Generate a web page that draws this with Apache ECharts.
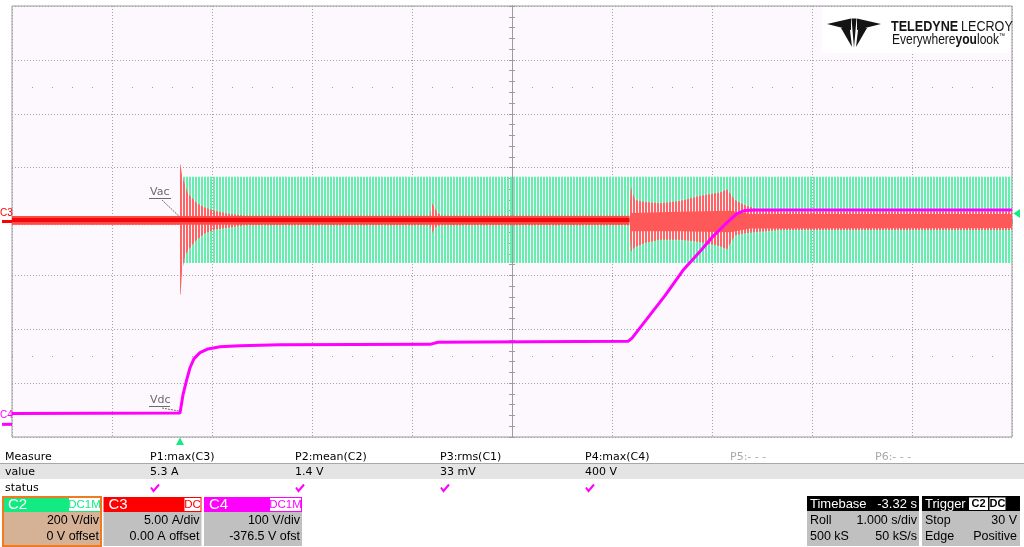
<!DOCTYPE html>
<html><head><meta charset="utf-8">
<script src="https://cdn.jsdelivr.net/npm/echarts@6/dist/echarts.min.js"></script>
<style>html,body{margin:0;padding:0;background:#fff}#c{width:1024px;height:547px}</style>
</head><body><div id="c"></div><script>
const timePerDiv = 1.0;        // s/div
const timebaseDelay = -3.32;   // s
const c2Scale = 200, c2Offset = 0;      // V/div, V
const c3Scale = 5,   c3Offset = 0;      // A/div, A
const c4Scale = 100, c4Offset = -376.5; // V/div, V
const triggerLevel = 30;                // V (C2)
const triggerTime = 0;                  // s

// ---------- C4 : Vdc (V vs s) ----------
const c4Time = [-1.68, 0.00, 0.03, 0.07, 0.10, 0.14, 0.20, 0.28, 0.40, 0.60, 1.00, 2.50, 2.58, 3.50, 4.48, 4.52, 4.65, 4.85, 5.03, 5.20, 5.33, 5.45, 5.57, 5.65, 5.75, 8.32];
const c4Volt = [20, 21, 55, 85, 105, 122, 133, 140, 144, 146, 147.5, 148.5, 152.5, 153.5, 154, 160, 191, 239, 286, 321, 349, 371, 391, 397, 398, 398];

// ---------- C2 : Vac envelope (V) ----------
const c2Time = [-1.68, 0.025, 0.03, 1.0, 3.0, 5.0, 8.32];
const c2Max  = [3, 3, 166, 166, 166, 166, 166];
const c2Min  = [-3, -3, -154, -154, -154, -154, -154];

// ---------- C3 : current envelope (A) ----------
const c3Time = [-1.68, -0.01, 0.00, 0.005, 0.02, 0.05, 0.08, 0.12, 0.17, 0.25, 0.35, 0.50, 0.65, 2.50, 2.52, 2.55, 2.58, 2.62, 4.49, 4.51, 4.55, 4.65, 4.80, 5.00, 5.20, 5.40, 5.47, 5.55, 5.65, 5.80, 6.00, 8.32];
const c3Max  = [0.5, 0.5, 5.3, 5.3, 4.3, 3.4, 2.6, 2.2, 1.7, 1.3, 1.0, 0.7, 0.55, 0.55, 1.7, 1.2, 0.8, 0.55, 0.55, 3.2, 2.0, 1.8, 1.7, 1.9, 2.4, 2.7, 3.0, 2.0, 1.5, 1.1, 0.9, 0.9];
const c3Min  = [-0.3, -0.3, -6.8, -6.8, -4.7, -3.2, -2.7, -2.2, -1.7, -1.1, -0.75, -0.55, -0.35, -0.35, -1.1, -0.6, -0.4, -0.35, -0.35, -2.8, -2.4, -2.0, -1.7, -1.7, -1.9, -2.3, -2.6, -1.3, -1.1, -0.95, -0.8, -0.8];
// dense (solid) part of the C3 trace before the converter starts
const c3DenseTime = [-1.68, 4.495];
const c3DenseHi   = [0.5, 0.5];
const c3DenseLo   = [-0.3, -0.3];
const c3CoreHi    = [0.33, 0.33];
const c3CoreLo    = [-0.05, -0.05];
// dense part of the C3 trace after the converter starts
const c3RunTime = [4.50, 5.00, 5.50, 5.70, 8.32];
const c3RunHi   = [0.8, 0.9, 1.0, 0.7, 0.7];
const c3RunLo   = [-0.9, -0.9, -1.0, -0.65, -0.6];

// ---------- measurement table ----------
const measureNames  = ['P1:max(C3)', 'P2:mean(C2)', 'P3:rms(C1)', 'P4:max(C4)', 'P5:- - -', 'P6:- - -'];
const measureValues = ['5.3 A', '1.4 V', '33 mV', '400 V', '', ''];
const measureOk     = [true, true, true, true, false, false];

// ---------- channel / timebase panels ----------
const chanNames   = ['C2', 'C3', 'C4'];
const chanCoupling = ['DC1M', 'DC', 'DC1M'];
const chanLine1   = ['200 V/div', '5.00 A/div', '100 V/div'];
const chanLine2   = ['0 V offset', '0.00 A offset', '-376.5 V ofst'];
const chanColors  = ['#14ea82', '#ff0000', '#ff00ff'];
const timebaseText = ['Timebase', '-3.32 s', 'Roll', '1.000 s/div', '500 kS', '50 kS/s'];
const triggerText  = ['Trigger', 'C2', 'DC', 'Stop', '30 V', 'Edge', 'Positive'];

// ---------- helpers ----------
const xDiv = t => (t + timebaseDelay) / timePerDiv;
const yDiv = (v, scale, offset) => (v + offset) / scale;

function stripes(color, on, period) {
  const c = document.createElement('canvas');
  c.width = period; c.height = 4;
  const g = c.getContext('2d');
  g.fillStyle = color; g.fillRect(0, 0, on, 4);
  return { image: c, repeat: 'repeat' };
}

function band(time, hi, lo, scale, offset, fill, z) {
  return {
    type: 'custom', coordinateSystem: 'cartesian2d', data: [[0, 0]], silent: true, clip: true, z: z,
    renderItem: function (params, api) {
      const pts = [];
      for (let i = 0; i < time.length; i++) pts.push(api.coord([xDiv(time[i]), yDiv(hi[i], scale, offset)]));
      for (let i = time.length - 1; i >= 0; i--) pts.push(api.coord([xDiv(time[i]), yDiv(lo[i], scale, offset)]));
      return { type: 'polygon', shape: { points: pts }, style: { fill: fill, stroke: null } };
    }
  };
}

const GRIDC = '#9c9c9c';
function xAx(pos, main) {
  return {
    type: 'value', min: -5, max: 5, interval: 1, position: pos,
    axisLine: { show: true, onZero: true, onZeroAxisIndex: 0, lineStyle: { color: GRIDC, width: 1 } },
    axisTick: { show: true, length: 3, lineStyle: { color: GRIDC } },
    minorTick: { show: true, splitNumber: 5, length: 3, lineStyle: { color: GRIDC } },
    axisLabel: { show: false },
    splitLine: { show: main, lineStyle: { color: '#a4a4a4', type: [1, 2] } },
    minorSplitLine: { show: false }
  };
}
function yAx(pos, main) {
  return {
    type: 'value', min: -4, max: 4, interval: 1, position: pos,
    axisLine: { show: true, onZero: true, onZeroAxisIndex: 0, lineStyle: { color: GRIDC, width: 1 } },
    axisTick: { show: true, length: 3, lineStyle: { color: GRIDC } },
    minorTick: { show: true, splitNumber: 5, length: 3, lineStyle: { color: GRIDC } },
    axisLabel: { show: false },
    splitLine: { show: main, lineStyle: { color: '#a4a4a4', type: [1, 2] } },
    minorSplitLine: { show: false }
  };
}

const chart = echarts.init(document.getElementById('c'), null, { renderer: 'canvas' });

const option = {
  animation: false,
  backgroundColor: '#ffffff',
  grid: { left: 12, top: 6, width: 1000, height: 431, show: true, backgroundColor: '#fdf8fd', borderColor: '#9a9a9a', borderWidth: 1, containLabel: false, outerBoundsMode: 'none' },
  xAxis: [xAx('bottom', true), xAx('top', false)],
  yAxis: [yAx('left', true), yAx('right', false)],
  series: [
    // half-division dot rows of the graticule
    { type: 'line', data: [], silent: true,
      markLine: { silent: true, symbol: ['none', 'none'], label: { show: false },
        lineStyle: { color: '#a0a0a0', type: [1, 19], width: 1 },
        data: [{ yAxis: 2.5 }, { yAxis: -2.5 }] } },
    band(c2Time, c2Max, c2Min, c2Scale, c2Offset, stripes('#66eeae', 2, 3), 2),
    band(c3Time, c3Max, c3Min, c3Scale, c3Offset, stripes('#ff6464', 2, 3), 3),
    band(c3RunTime, c3RunHi, c3RunLo, c3Scale, c3Offset, '#ff5858', 4),
    band(c3DenseTime, c3DenseHi, c3DenseLo, c3Scale, c3Offset, '#ff4a4a', 4),
    band(c3DenseTime, c3CoreHi, c3CoreLo, c3Scale, c3Offset, '#f20a0a', 4),
    { type: 'line', name: 'C4', z: 6, showSymbol: false, silent: true, clip: true,
      lineStyle: { color: '#ff00ff', width: 3 },
      data: c4Time.map((t, i) => [xDiv(t), yDiv(c4Volt[i], c4Scale, c4Offset)]) }
  ]
};
chart.setOption(option);

// ---------- overlay graphics (markers, logo, panels) ----------
const P = (xd, yd) => chart.convertToPixel({ xAxisIndex: 0, yAxisIndex: 0 }, [xd, yd]);
const g = [];
const txt = (text, x, y, font, fill, align, extra) => g.push(Object.assign({ type: 'text', silent: true, z: 20,
  style: { text: text, x: x, y: y, font: font, fill: fill, align: align || 'left', verticalAlign: 'middle' } }, extra || {}));
const rect = (x, y, w, h, fill, stroke, lw) => g.push({ type: 'rect', silent: true, z: 15,
  shape: { x: x, y: y, width: w, height: h }, style: { fill: fill, stroke: stroke || null, lineWidth: lw || 0 } });
const line = (x1, y1, x2, y2, stroke, lw, dash) => g.push({ type: 'line', silent: true, z: 21,
  shape: { x1: x1, y1: y1, x2: x2, y2: y2 }, style: { stroke: stroke, lineWidth: lw || 1, lineDash: dash || null } });
const poly = (pts, fill, z) => g.push({ type: 'polygon', silent: true, z: z || 21, shape: { points: pts }, style: { fill: fill } });

// ground markers
const c3g = P(-5, yDiv(0, c3Scale, c3Offset));
rect(2, c3g[1] - 1.5, 10, 3, '#ff0000');
txt('C3', 0, c3g[1] - 8, '10px "Liberation Sans"', '#ff0000');
const c4g = P(-5, yDiv(0, c4Scale, c4Offset));
rect(2, c4g[1] - 1.5, 10, 3, '#ff00ff');
txt('C4', 0, c4g[1] - 9, '10px "Liberation Sans"', '#ff00ff');

// trigger level (right) and trigger position (bottom)
const tl = P(5, yDiv(triggerLevel, c2Scale, c2Offset));
poly([[tl[0] + 1.5, tl[1]], [tl[0] + 8, tl[1] - 4.5], [tl[0] + 8, tl[1] + 4.5]], '#14ea82');
const tp = P(xDiv(triggerTime), -4);
poly([[tp[0], tp[1] + 0.5], [tp[0] - 4, tp[1] + 8], [tp[0] + 4, tp[1] + 8]], '#14ea82');

// Vac / Vdc annotations
const vacEnd = P(xDiv(triggerTime), 0.08);
txt('Vac', 150, 192, '11px "DejaVu Sans"', '#6a6a6a');
line(149, 198.5, 171, 198.5, '#6a6a6a', 1);
line(162, 200, vacEnd[0], vacEnd[1], '#6a6a6a', 1, [2, 1]);
const vdcEnd = P(xDiv(triggerTime), yDiv(c4Volt[1], c4Scale, c4Offset));
txt('Vdc', 150, 400, '11px "DejaVu Sans"', '#6a6a6a');
line(149, 406.5, 170, 406.5, '#6a6a6a', 1);
line(162, 408, vdcEnd[0] - 1, vdcEnd[1] - 2, '#6a6a6a', 1, [2, 1]);

// logo
rect(822, 7, 188, 46, '#ffffff');
const K = '#141414';
poly([[827, 24], [851, 18.5], [851, 30]], K);
poly([[881, 24], [857, 18.5], [857, 30]], K);
poly([[851.5, 18.5], [856.5, 18.5], [854, 48]], K);
poly([[841, 28], [849.5, 26], [852, 47]], K);
poly([[867, 28], [858.5, 26], [856, 47]], K);
g.push({ type: 'text', silent: true, z: 21, x: 891, y: 27, scaleX: 0.84,
  style: { text: '{b|TELEDYNE} {a|LECROY}', x: 0, y: 0, verticalAlign: 'middle',
    rich: { b: { font: 'bold 15px "Liberation Sans"', fill: K }, a: { font: '15px "Liberation Sans"', fill: K } } } });
g.push({ type: 'text', silent: true, z: 21, x: 892, y: 40, scaleX: 0.86,
  style: { text: '{a|Everywhere}{b|you}{a|look}{t|™}', x: 0, y: 0, verticalAlign: 'middle',
    rich: { a: { font: '14px "Liberation Sans"', fill: K }, b: { font: 'bold 14px "Liberation Sans"', fill: K }, t: { font: '7px "Liberation Sans"', fill: K, verticalAlign: 'top' } } } });

// measurement table
const mx = [150, 295, 440, 585, 730, 875];
const MF = '11px "DejaVu Sans"';
rect(0, 464, 1024, 15, '#e4e4e4');
line(0, 463.5, 1024, 463.5, '#a8a8a8', 1);
txt('Measure', 5, 457, MF, '#000');
txt('value', 5, 472, MF, '#000');
txt('status', 5, 488, MF, '#000');
measureNames.forEach((n, i) => {
  txt(n, mx[i], 457, MF, measureOk[i] ? '#000' : '#a8a8a8');
  if (measureValues[i]) txt(measureValues[i], mx[i], 472, MF, '#000');
  if (measureOk[i]) g.push({ type: 'polyline', silent: true, z: 21,
    shape: { points: [[mx[i] + 1, 487.5], [mx[i] + 3.5, 491], [mx[i] + 9, 484.5]] },
    style: { stroke: '#ff00ff', lineWidth: 2, fill: null } });
});

// channel boxes
const BF = '12.5px "Liberation Sans"';
chanNames.forEach((n, i) => {
  const x0 = 3 + i * 100.5;
  const bw = 98;
  rect(x0, 512, bw, 34, i === 0 ? '#d5b196' : '#c0c0c0');
  rect(x0, 497, bw, 15, chanColors[i]);
  if (i === 0) g.push({ type: 'rect', silent: true, z: 16, shape: { x: x0, y: 497, width: bw, height: 49 }, style: { fill: null, stroke: '#ee7a22', lineWidth: 2 } });
  txt(n, x0 + 5, 505, '15px "Liberation Sans"', '#ffffff');
  const badgeW = chanCoupling[i].length > 2 ? 31 : 16;
  rect(x0 + bw - badgeW - 1, 498, badgeW, 13, '#ffffff');
  txt(chanCoupling[i], x0 + bw - 1 - badgeW / 2, 505, '11.5px "Liberation Sans"', chanColors[i], 'center');
  txt(chanLine1[i], x0 + bw - 2, 521, BF, '#000', 'right');
  txt(chanLine2[i], x0 + bw - 2, 537, BF, '#000', 'right');
});

// timebase box
const HF = '13px "Liberation Sans"';
rect(807, 496, 112, 15, '#000000');
rect(807, 511, 112, 35, '#c0c0c0');
txt(timebaseText[0], 810, 504, HF, '#fff');
txt(timebaseText[1], 917, 504, HF, '#fff', 'right');
txt(timebaseText[2], 810, 521, BF, '#000');
txt(timebaseText[3], 917, 521, BF, '#000', 'right');
txt(timebaseText[4], 810, 537, BF, '#000');
txt(timebaseText[5], 917, 537, BF, '#000', 'right');
// trigger box
rect(922, 496, 98, 15, '#000000');
rect(922, 511, 98, 35, '#c0c0c0');
txt(triggerText[0], 925, 504, HF, '#fff');
rect(969, 497.5, 19, 12.5, '#ffffff');
rect(989.5, 497.5, 16, 12.5, '#ffffff');
txt(triggerText[1], 978.5, 504, 'bold 11px "Liberation Sans"', '#000', 'center');
txt(triggerText[2], 997.5, 504, 'bold 11px "Liberation Sans"', '#000', 'center');
txt(triggerText[3], 925, 521, BF, '#000');
txt(triggerText[4], 1017, 521, BF, '#000', 'right');
txt(triggerText[5], 925, 537, BF, '#000');
txt(triggerText[6], 1017, 537, BF, '#000', 'right');

chart.setOption({ graphic: { elements: g } });
</script></body></html>
